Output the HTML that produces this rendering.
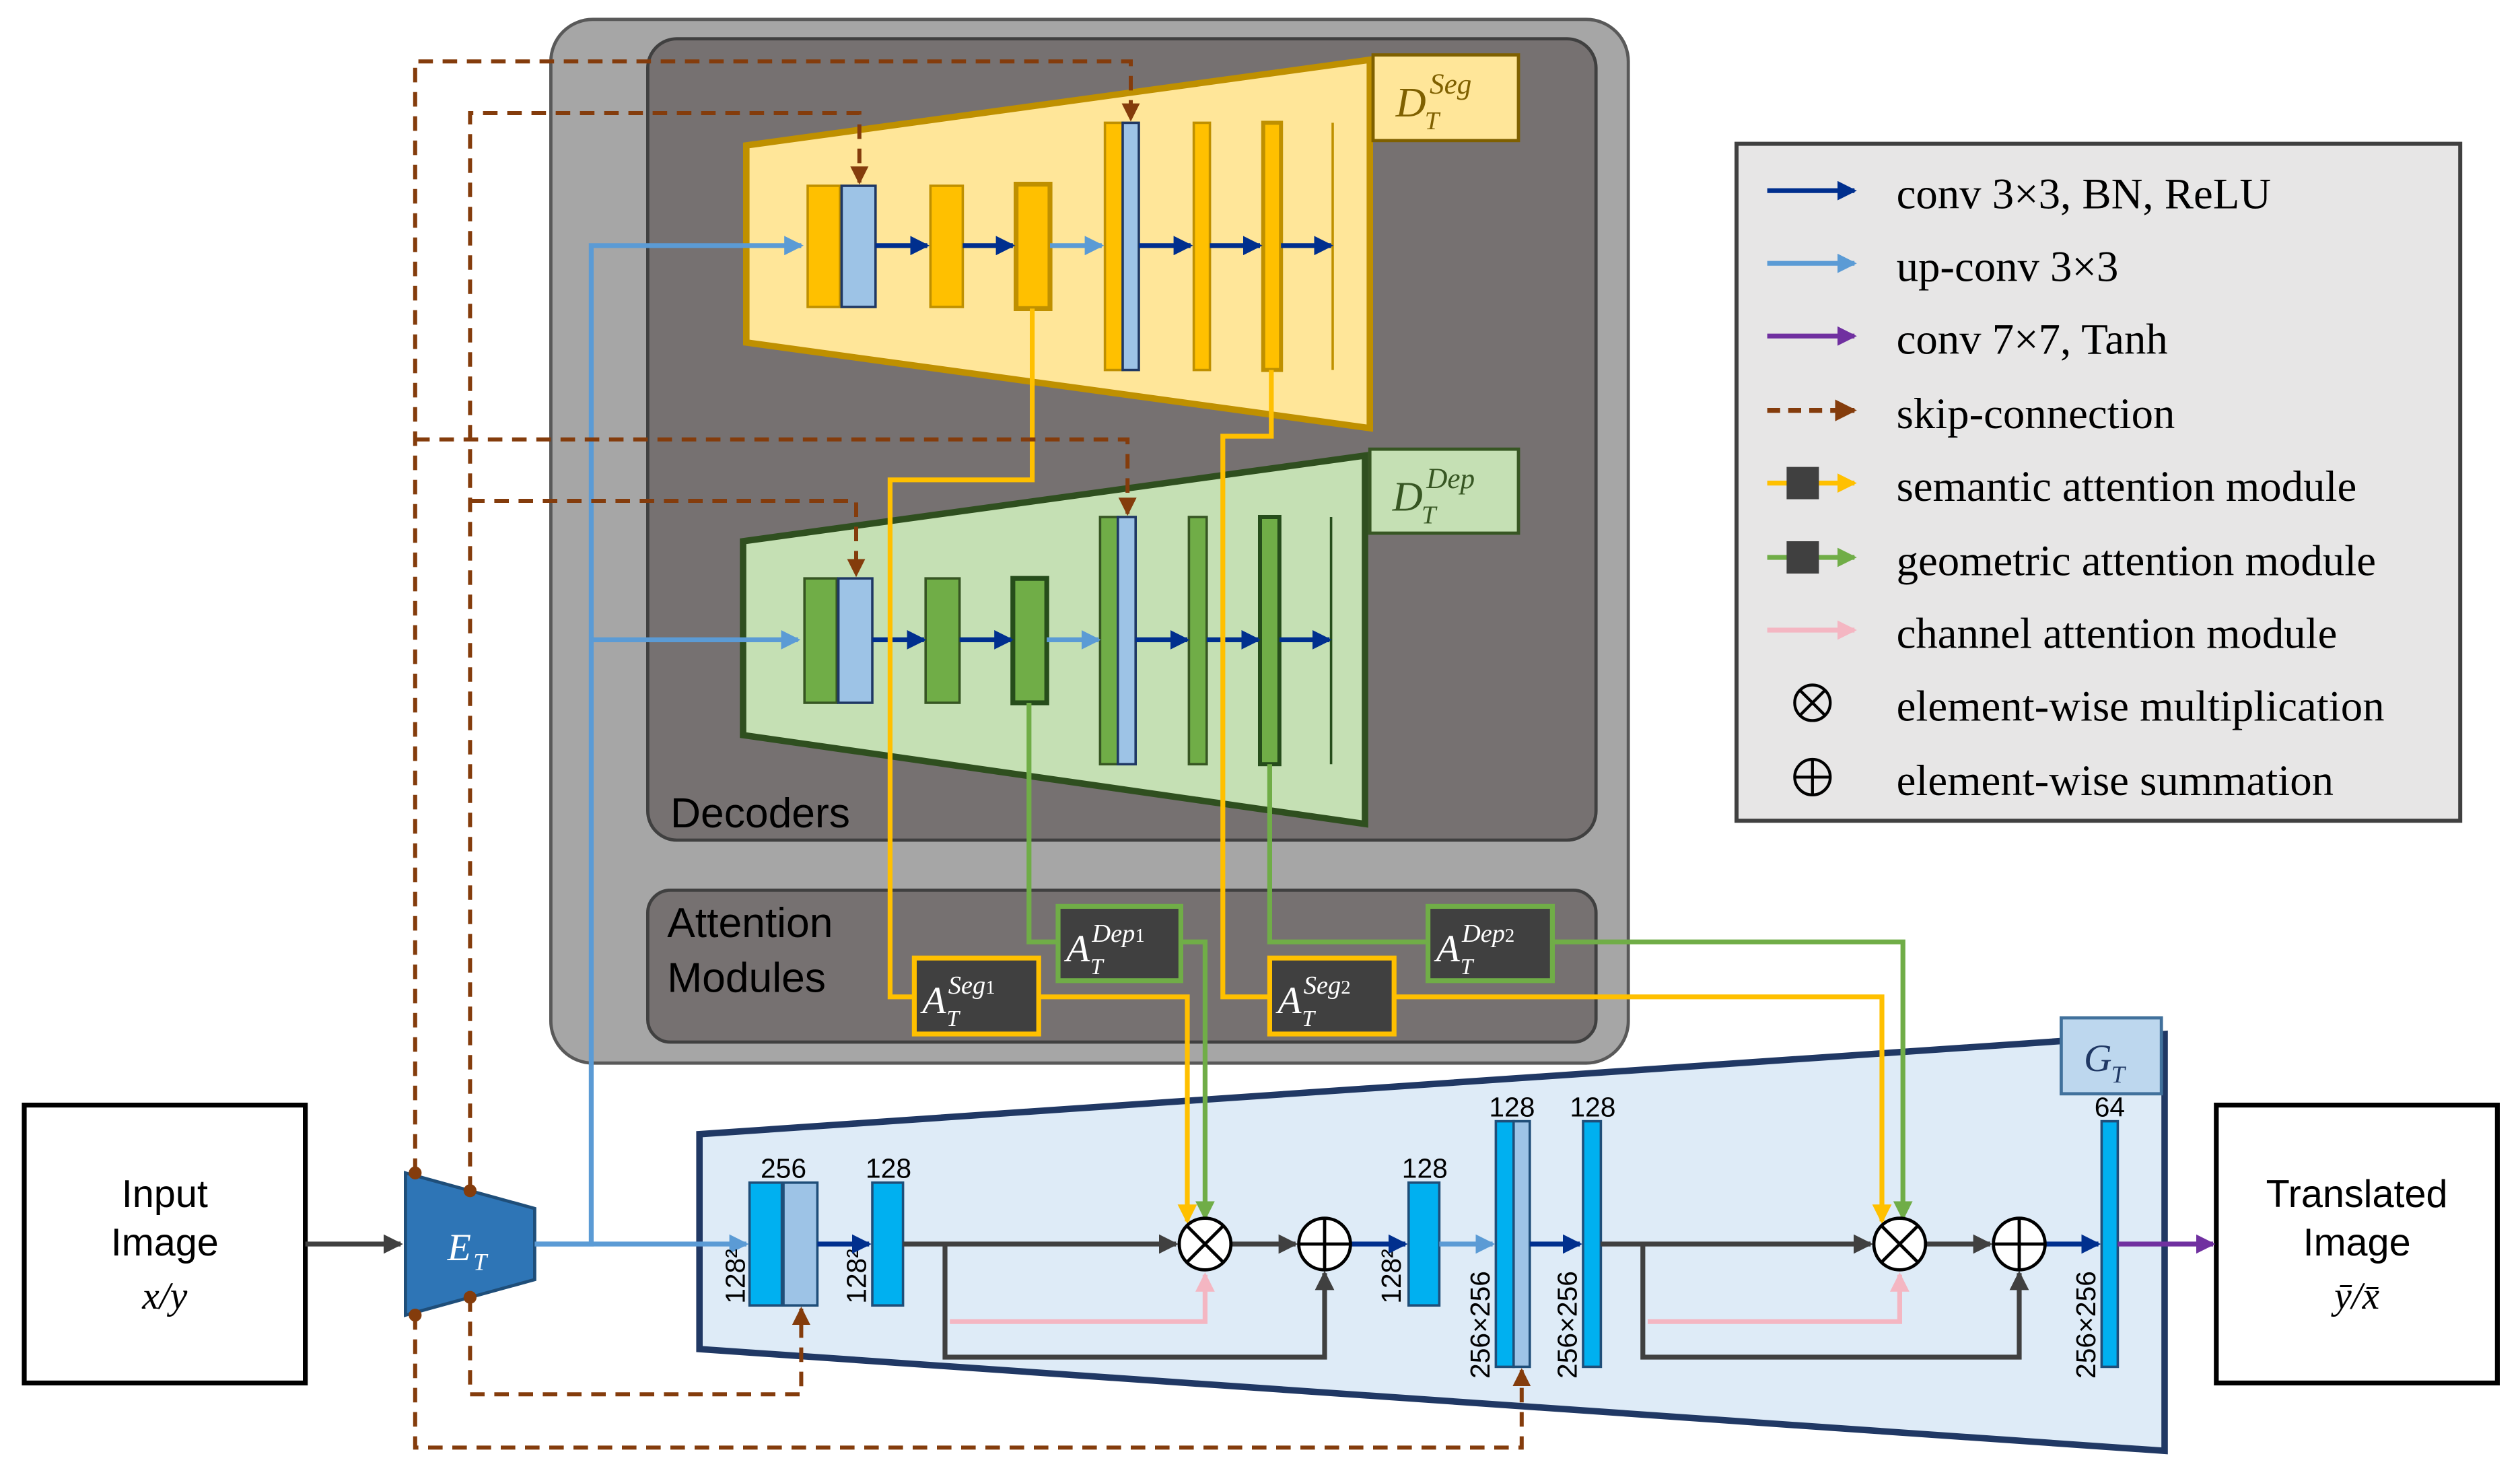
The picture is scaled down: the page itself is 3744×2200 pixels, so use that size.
<!DOCTYPE html>
<html><head><meta charset="utf-8"><style>
html,body{margin:0;padding:0;background:#fff}
svg{display:block}
.s{font-family:"Liberation Sans",sans-serif}
.r{font-family:"Liberation Serif",serif}
.m{font-family:"Liberation Serif",serif;font-style:italic}
</style></head><body>
<svg width="3744" height="2200" viewBox="0 0 1560 916.67" xmlns="http://www.w3.org/2000/svg">
<defs>
<marker id="adb" markerWidth="4" markerHeight="4" refX="3.5" refY="2" orient="auto" markerUnits="strokeWidth"><path d="M0,0L4,2L0,4z" fill="#002f8e"/></marker>
<marker id="alb" markerWidth="4" markerHeight="4" refX="3.5" refY="2" orient="auto" markerUnits="strokeWidth"><path d="M0,0L4,2L0,4z" fill="#5b9bd5"/></marker>
<marker id="apu" markerWidth="4" markerHeight="4" refX="3.5" refY="2" orient="auto" markerUnits="strokeWidth"><path d="M0,0L4,2L0,4z" fill="#7030a0"/></marker>
<marker id="abr" markerWidth="4.5" markerHeight="4.5" refX="4" refY="2.25" orient="auto" markerUnits="strokeWidth"><path d="M0,0L4.5,2.25L0,4.5z" fill="#843c0c"/></marker>
<marker id="agr" markerWidth="4" markerHeight="4" refX="3.5" refY="2" orient="auto" markerUnits="strokeWidth"><path d="M0,0L4,2L0,4z" fill="#404040"/></marker>
<marker id="ayl" markerWidth="4" markerHeight="4" refX="3.5" refY="2" orient="auto" markerUnits="strokeWidth"><path d="M0,0L4,2L0,4z" fill="#ffc000"/></marker>
<marker id="agn" markerWidth="4" markerHeight="4" refX="3.5" refY="2" orient="auto" markerUnits="strokeWidth"><path d="M0,0L4,2L0,4z" fill="#70ad47"/></marker>
<marker id="apk" markerWidth="4" markerHeight="4" refX="3.5" refY="2" orient="auto" markerUnits="strokeWidth"><path d="M0,0L4,2L0,4z" fill="#f4b6c2"/></marker>
</defs>

<rect x="341" y="12" width="667" height="646" rx="26" fill="#a6a6a6" stroke="#595959" stroke-width="2"/>
<rect x="401" y="24" width="587" height="496" rx="18" fill="#767171" stroke="#404040" stroke-width="2"/>
<text x="415" y="512" class="s" font-size="26" fill="#000">Decoders</text>
<rect x="401" y="551" width="587" height="94" rx="14" fill="#767171" stroke="#404040" stroke-width="2"/>
<text x="413" y="580" class="s" font-size="26">Attention</text>
<text x="413" y="614" class="s" font-size="26">Modules</text>

<polygon points="462,90 848,37 848,265 462,212" fill="#ffe699" stroke="#bf9000" stroke-width="4"/>
<rect x="850" y="34" width="90" height="53" fill="#ffe699" stroke="#7f6000" stroke-width="2"/>
<text x="864" y="72" class="m" font-size="26" fill="#7f6000">D</text>
<text x="885" y="58" class="m" font-size="18" fill="#7f6000">Seg</text>
<text x="882" y="80" class="m" font-size="16" fill="#7f6000">T</text>
<g stroke-width="1.5">
<rect x="500" y="115" width="20" height="75" fill="#ffc000" stroke="#bf9000"/>
<rect x="521" y="115" width="21" height="75" fill="#9dc3e6" stroke="#1f3864"/>
<rect x="576" y="115" width="20" height="75" fill="#ffc000" stroke="#bf9000"/>
<rect x="629" y="114" width="21" height="77" fill="#ffc000" stroke="#bf9000" stroke-width="3"/>
<rect x="684" y="76" width="11" height="153" fill="#ffc000" stroke="#bf9000"/>
<rect x="695" y="76" width="10" height="153" fill="#9dc3e6" stroke="#1f3864"/>
<rect x="739" y="76" width="10" height="153" fill="#ffc000" stroke="#bf9000"/>
<rect x="782" y="76" width="11" height="153" fill="#ffc000" stroke="#bf9000" stroke-width="2.5"/>
</g>
<line x1="825" y1="76" x2="825" y2="229" stroke="#bf9000" stroke-width="1.5"/>

<polygon points="460,335 845,282 845,510 460,455" fill="#c5e0b4" stroke="#2f4f1f" stroke-width="4"/>
<rect x="848" y="278" width="92" height="52" fill="#c5e0b4" stroke="#375623" stroke-width="2"/>
<text x="862" y="316" class="m" font-size="26" fill="#375623">D</text>
<text x="883" y="302" class="m" font-size="18" fill="#375623">Dep</text>
<text x="880" y="324" class="m" font-size="16" fill="#375623">T</text>
<g stroke-width="1.5">
<rect x="498" y="358" width="20" height="77" fill="#70ad47" stroke="#375623"/>
<rect x="519" y="358" width="21" height="77" fill="#9dc3e6" stroke="#1f3864"/>
<rect x="573" y="358" width="21" height="77" fill="#70ad47" stroke="#375623"/>
<rect x="627" y="358" width="21" height="77" fill="#70ad47" stroke="#264d1b" stroke-width="3"/>
<rect x="681" y="320" width="11" height="153" fill="#70ad47" stroke="#375623"/>
<rect x="692" y="320" width="11" height="153" fill="#9dc3e6" stroke="#1f3864"/>
<rect x="736" y="320" width="11" height="153" fill="#70ad47" stroke="#375623"/>
<rect x="780" y="320" width="12" height="153" fill="#70ad47" stroke="#264d1b" stroke-width="2.5"/>
</g>
<line x1="824" y1="320" x2="824" y2="473" stroke="#264d1b" stroke-width="1.5"/>

<g stroke-width="3" fill="none">
<polyline points="331,770 366,770 366,152 496,152" stroke="#5b9bd5" marker-end="url(#alb)"/>
<polyline points="366,396 494,396" stroke="#5b9bd5" marker-end="url(#alb)"/>
<line x1="542" y1="152" x2="574" y2="152" stroke="#002f8e" marker-end="url(#adb)"/>
<line x1="596" y1="152" x2="627" y2="152" stroke="#002f8e" marker-end="url(#adb)"/>
<line x1="650" y1="152" x2="682" y2="152" stroke="#5b9bd5" marker-end="url(#alb)"/>
<line x1="705" y1="152" x2="737" y2="152" stroke="#002f8e" marker-end="url(#adb)"/>
<line x1="749" y1="152" x2="780" y2="152" stroke="#002f8e" marker-end="url(#adb)"/>
<line x1="793" y1="152" x2="824" y2="152" stroke="#002f8e" marker-end="url(#adb)"/>
<line x1="540" y1="396" x2="572" y2="396" stroke="#002f8e" marker-end="url(#adb)"/>
<line x1="594" y1="396" x2="626" y2="396" stroke="#002f8e" marker-end="url(#adb)"/>
<line x1="648" y1="396" x2="680" y2="396" stroke="#5b9bd5" marker-end="url(#alb)"/>
<line x1="703" y1="396" x2="735" y2="396" stroke="#002f8e" marker-end="url(#adb)"/>
<line x1="747" y1="396" x2="779" y2="396" stroke="#002f8e" marker-end="url(#adb)"/>
<line x1="792" y1="396" x2="823" y2="396" stroke="#002f8e" marker-end="url(#adb)"/>
</g>

<g fill="none" stroke-width="3">
<polyline points="639,191 639,297 551,297 551,617 566,617" stroke="#ffc000"/>
<polyline points="787,229 787,270 757,270 757,617 786,617" stroke="#ffc000"/>
<polyline points="637,435 637,583 655,583" stroke="#70ad47"/>
<polyline points="786,473 786,583 884,583" stroke="#70ad47"/>
</g>

<!-- generator -->
<polygon points="433,702 1340,640 1340,898 433,835" fill="#deebf7" stroke="#203864" stroke-width="4"/>
<rect x="1276" y="630" width="62" height="47" fill="#bdd7ee" stroke="#41719c" stroke-width="2"/>
<text x="1290" y="663" class="m" font-size="24" fill="#203864">G</text><text x="1307" y="670" class="m" font-size="15" fill="#203864">T</text>

<g fill="none" stroke-width="3">
<polyline points="643,617 735,617 735,756" stroke="#ffc000" marker-end="url(#ayl)"/>
<polyline points="731,583 746,583 746,754" stroke="#70ad47" marker-end="url(#agn)"/>
<polyline points="863,617 1165,617 1165,756" stroke="#ffc000" marker-end="url(#ayl)"/>
<polyline points="961,583 1178,583 1178,754" stroke="#70ad47" marker-end="url(#agn)"/>
</g>
<g stroke-width="3" fill="#404040">
<rect x="566" y="593" width="77" height="47" stroke="#ffc000"/>
<rect x="655" y="561" width="76" height="46" stroke="#70ad47"/>
<rect x="786" y="593" width="77" height="47" stroke="#ffc000"/>
<rect x="884" y="561" width="77" height="46" stroke="#70ad47"/>
</g>
<g fill="#fff">
<text x="571" y="627" class="m" font-size="24">A</text><text x="587" y="615" class="m" font-size="16">Seg<tspan font-size="12" font-style="normal">1</tspan></text><text x="586" y="635" class="m" font-size="14">T</text>
<text x="660" y="595" class="m" font-size="24">A</text><text x="676" y="583" class="m" font-size="16">Dep<tspan font-size="12" font-style="normal">1</tspan></text><text x="675" y="603" class="m" font-size="14">T</text>
<text x="791" y="627" class="m" font-size="24">A</text><text x="807" y="615" class="m" font-size="16">Seg<tspan font-size="12" font-style="normal">2</tspan></text><text x="806" y="635" class="m" font-size="14">T</text>
<text x="889" y="595" class="m" font-size="24">A</text><text x="905" y="583" class="m" font-size="16">Dep<tspan font-size="12" font-style="normal">2</tspan></text><text x="904" y="603" class="m" font-size="14">T</text>
</g>

<rect x="15" y="684" width="174" height="172" fill="#fff" stroke="#000" stroke-width="3"/>
<text x="102" y="747" class="s" font-size="24" text-anchor="middle">Input</text>
<text x="102" y="777" class="s" font-size="24" text-anchor="middle">Image</text>
<text x="102" y="810" class="m" font-size="24" text-anchor="middle">x/y</text>
<rect x="1372" y="684" width="174" height="172" fill="#fff" stroke="#000" stroke-width="3"/>
<text x="1459" y="747" class="s" font-size="24" text-anchor="middle">Translated</text>
<text x="1459" y="777" class="s" font-size="24" text-anchor="middle">Image</text>
<text x="1459" y="810" class="m" font-size="24" text-anchor="middle">ȳ/x̄</text>
<line x1="189" y1="770" x2="248" y2="770" stroke="#404040" stroke-width="3" marker-end="url(#agr)"/>
<polygon points="251,726 331,748 331,792 251,814" fill="#2e75b6" stroke="#1f4e79" stroke-width="2"/>
<text x="277" y="780" class="m" font-size="24" fill="#fff">E</text><text x="293" y="786" class="m" font-size="15" fill="#fff">T</text>

<g fill="none" stroke="#843c0c" stroke-width="2.5" stroke-dasharray="9,6">
<polyline points="257,726 257,38 700,38 700,74" marker-end="url(#abr)"/>
<polyline points="291,737 291,70 532,70 532,113" marker-end="url(#abr)"/>
<polyline points="257,272 698,272 698,318" marker-end="url(#abr)"/>
<polyline points="291,310 530,310 530,356" marker-end="url(#abr)"/>
<polyline points="291,803 291,863 496,863 496,810" marker-end="url(#abr)"/>
<polyline points="257,814 257,896 942,896 942,848" marker-end="url(#abr)"/>
</g>
<g fill="#843c0c"><circle cx="257" cy="726" r="4"/><circle cx="291" cy="737" r="4"/><circle cx="291" cy="803" r="4"/><circle cx="257" cy="814" r="4"/></g>

<line x1="331" y1="770" x2="462" y2="770" stroke="#5b9bd5" stroke-width="3" marker-end="url(#alb)"/>
<g stroke-width="1.5">
<rect x="464" y="732" width="20" height="76" fill="#00b0f0" stroke="#1f4e79"/>
<rect x="485" y="732" width="21" height="76" fill="#9dc3e6" stroke="#1f4e79"/>
<rect x="540" y="732" width="19" height="76" fill="#00b0f0" stroke="#1f4e79"/>
<rect x="872" y="732" width="19" height="76" fill="#00b0f0" stroke="#1f4e79"/>
<rect x="926" y="694" width="11" height="152" fill="#00b0f0" stroke="#1f4e79"/>
<rect x="937" y="694" width="10" height="152" fill="#9dc3e6" stroke="#1f4e79"/>
<rect x="980" y="694" width="11" height="152" fill="#00b0f0" stroke="#1f4e79"/>
<rect x="1301" y="694" width="10" height="152" fill="#00b0f0" stroke="#1f4e79"/>
</g>
<g class="s" font-size="17" text-anchor="middle">
<text x="485" y="729">256</text><text x="550" y="729">128</text><text x="882" y="729">128</text>
<text x="936" y="691">128</text><text x="986" y="691">128</text><text x="1306" y="691">64</text>
<text transform="translate(461,790) rotate(-90)">128²</text>
<text transform="translate(536,790) rotate(-90)">128²</text>
<text transform="translate(867,790) rotate(-90)">128²</text>
<text transform="translate(922,820) rotate(-90)">256×256</text>
<text transform="translate(976,820) rotate(-90)">256×256</text>
<text transform="translate(1297,820) rotate(-90)">256×256</text>
</g>
<g fill="none" stroke-width="3">
<line x1="506" y1="770" x2="538" y2="770" stroke="#002f8e" marker-end="url(#adb)"/>
<line x1="559" y1="770" x2="728" y2="770" stroke="#404040" marker-end="url(#agr)"/>
<polyline points="585,770 585,840 820,840 820,788" stroke="#404040" marker-end="url(#agr)"/>
<polyline points="588,818 746,818 746,789" stroke="#f4b6c2" marker-end="url(#apk)"/>
<line x1="762" y1="770" x2="802" y2="770" stroke="#404040" marker-end="url(#agr)"/>
<line x1="836" y1="770" x2="870" y2="770" stroke="#002f8e" marker-end="url(#adb)"/>
<line x1="891" y1="770" x2="924" y2="770" stroke="#5b9bd5" marker-end="url(#alb)"/>
<line x1="947" y1="770" x2="978" y2="770" stroke="#002f8e" marker-end="url(#adb)"/>
<line x1="991" y1="770" x2="1158" y2="770" stroke="#404040" marker-end="url(#agr)"/>
<polyline points="1017,770 1017,840 1250,840 1250,788" stroke="#404040" marker-end="url(#agr)"/>
<polyline points="1020,818 1176,818 1176,789" stroke="#f4b6c2" marker-end="url(#apk)"/>
<line x1="1192" y1="770" x2="1232" y2="770" stroke="#404040" marker-end="url(#agr)"/>
<line x1="1266" y1="770" x2="1299" y2="770" stroke="#002f8e" marker-end="url(#adb)"/>
<line x1="1311" y1="770" x2="1370" y2="770" stroke="#7030a0" marker-end="url(#apu)"/>
</g>
<g fill="#fff" stroke="#000" stroke-width="2">
<circle cx="746" cy="770" r="16"/><path d="M735,759L757,781M757,759L735,781"/>
<circle cx="820" cy="770" r="16"/><path d="M804,770H836M820,754V786"/>
<circle cx="1176" cy="770" r="16"/><path d="M1165,759L1187,781M1187,759L1165,781"/>
<circle cx="1250" cy="770" r="16"/><path d="M1234,770H1266M1250,754V786"/>
</g>

<rect x="1075" y="89" width="448" height="419" fill="#e7e6e6" stroke="#404040" stroke-width="2.5"/>
<g stroke-width="3" fill="none">
<line x1="1094" y1="118" x2="1148" y2="118" stroke="#002f8e" marker-end="url(#adb)"/>
<line x1="1094" y1="163" x2="1148" y2="163" stroke="#5b9bd5" marker-end="url(#alb)"/>
<line x1="1094" y1="208" x2="1148" y2="208" stroke="#7030a0" marker-end="url(#apu)"/>
<line x1="1094" y1="254" x2="1148" y2="254" stroke="#843c0c" stroke-dasharray="8,5" marker-end="url(#abr)"/>
<line x1="1094" y1="299" x2="1148" y2="299" stroke="#ffc000" marker-end="url(#ayl)"/>
<line x1="1094" y1="345" x2="1148" y2="345" stroke="#70ad47" marker-end="url(#agn)"/>
<line x1="1094" y1="390" x2="1148" y2="390" stroke="#f4b6c2" marker-end="url(#apk)"/>
</g>
<rect x="1106" y="289" width="20" height="20" fill="#404040"/>
<rect x="1106" y="335" width="20" height="20" fill="#404040"/>
<g fill="none" stroke="#000" stroke-width="1.8">
<circle cx="1122" cy="435" r="11"/><path d="M1114,427L1130,443M1130,427L1114,443"/>
<circle cx="1122" cy="481" r="11"/><path d="M1111,481H1133M1122,470V492"/>
</g>
<g class="r" font-size="27" fill="#000">
<text x="1174" y="129">conv 3×3, BN, ReLU</text>
<text x="1174" y="174">up-conv 3×3</text>
<text x="1174" y="219">conv 7×7, Tanh</text>
<text x="1174" y="265">skip-connection</text>
<text x="1174" y="310">semantic attention module</text>
<text x="1174" y="356">geometric attention module</text>
<text x="1174" y="401">channel attention module</text>
<text x="1174" y="446">element-wise multiplication</text>
<text x="1174" y="492">element-wise summation</text>
</g>
</svg>
</body></html>
